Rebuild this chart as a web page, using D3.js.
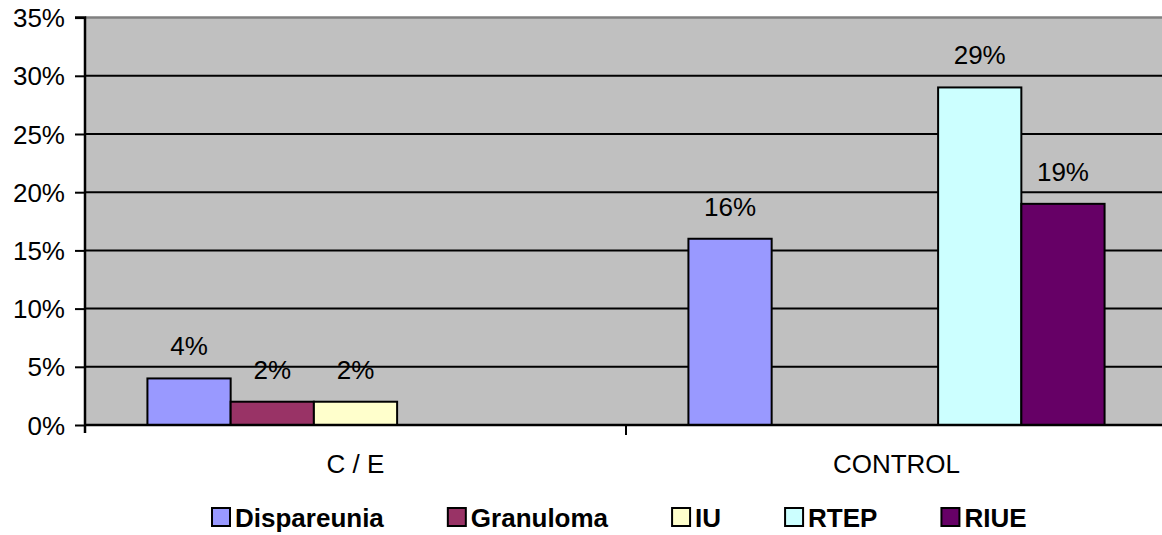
<!DOCTYPE html>
<html><head><meta charset="utf-8">
<script src="https://cdn.jsdelivr.net/npm/d3@7"></script>
<style>
html,body{margin:0;padding:0;background:#fff;overflow:hidden;}
text{font-family:"Liberation Sans",Arial,sans-serif;}
</style></head>
<body>
<svg id="chart" width="1162" height="535"></svg>
<script>
const categories = ["C / E", "CONTROL"];
const seriesNames = ["Dispareunia", "Granuloma", "IU", "RTEP", "RIUE"];
const seriesColors = ["#9999FF", "#993366", "#FFFFCC", "#CCFFFF", "#660066"];
const dispareunia = [4, 16];
const granuloma = [2, null];
const iu = [2, null];
const rtep = [null, 29];
const riue = [null, 19];
const yTicks = [0, 5, 10, 15, 20, 25, 30, 35];

const seriesValues = [dispareunia, granuloma, iu, rtep, riue];

(function () {
const svg = d3.select("#chart");
const pLeft = 85, pTop = 17.6, pBottom = 425, pRight = 1167;

const y = d3.scaleLinear().domain([0, 35]).range([pBottom, pTop]);
const x0 = d3.scaleBand().domain(categories).range([pLeft, pRight]).paddingInner(0).paddingOuter(0);
const bw = x0.bandwidth();
const barW = bw / (seriesNames.length + 1.5);
const x1 = d3.scaleBand().domain(seriesNames)
  .range([(bw - barW * seriesNames.length) / 2, (bw + barW * seriesNames.length) / 2])
  .padding(0);

// plot background
svg.append("rect").attr("x", pLeft).attr("y", pTop).attr("width", pRight - pLeft).attr("height", pBottom - pTop)
  .attr("fill", "#C0C0C0");

// gridlines
svg.append("g").selectAll("line").data(yTicks.filter(d => d > 0 && d < 35)).join("line")
  .attr("x1", pLeft).attr("x2", pRight).attr("y1", d => y(d)).attr("y2", d => y(d))
  .attr("stroke", "#000").attr("stroke-width", 2);
// top border
svg.append("line").attr("x1", pLeft).attr("x2", pRight).attr("y1", y(35)).attr("y2", y(35))
  .attr("stroke", "#808080").attr("stroke-width", 2.5);

// bars
const data = [];
categories.forEach((c, ci) => {
  seriesNames.forEach((s, si) => {
    const v = seriesValues[si][ci];
    if (v != null) data.push({c, s, v, color: seriesColors[si]});
  });
});
svg.append("g").selectAll("rect").data(data).join("rect")
  .attr("x", d => x0(d.c) + x1(d.s))
  .attr("y", d => y(d.v))
  .attr("width", x1.bandwidth())
  .attr("height", d => y(0) - y(d.v))
  .attr("fill", d => d.color)
  .attr("stroke", "#000").attr("stroke-width", 2);

// data labels
svg.append("g").selectAll("text").data(data).join("text")
  .attr("x", d => x0(d.c) + x1(d.s) + x1.bandwidth() / 2)
  .attr("y", d => y(d.v) - 23)
  .attr("text-anchor", "middle")
  .attr("font-size", 26)
  .attr("fill", "#000")
  .text(d => d.v + "%");

// y axis
const yAxis = d3.axisLeft(y).tickValues(yTicks).tickFormat(d => d + "%").tickSize(10).tickPadding(10);
const gy = svg.append("g").attr("transform", `translate(${pLeft},0)`).call(yAxis);
gy.select(".domain").attr("stroke", "#000").attr("stroke-width", 2.5).attr("d", `M-10,${y(35)}H0V${pBottom + 8}`);
gy.selectAll(".tick line").attr("stroke", "#000").attr("stroke-width", 2);
gy.selectAll(".tick text").attr("font-size", 26).attr("fill", "#000")
  .attr("font-family", "Liberation Sans, Arial, sans-serif").attr("dy", "0.35em");

// x axis
svg.append("line").attr("x1", pLeft).attr("x2", pRight).attr("y1", pBottom).attr("y2", pBottom)
  .attr("stroke", "#000").attr("stroke-width", 2.5);
svg.append("g").selectAll("line").data(categories.slice(1)).join("line")
  .attr("x1", d => x0(d)).attr("x2", d => x0(d)).attr("y1", pBottom).attr("y2", pBottom + 10)
  .attr("stroke", "#000").attr("stroke-width", 2);
svg.append("g").selectAll("text").data(categories).join("text")
  .attr("x", d => x0(d) + bw / 2)
  .attr("y", 473)
  .attr("text-anchor", "middle")
  .attr("font-size", 26)
  .attr("fill", "#000")
  .text(d => d);

// legend
const lg = svg.append("g");
let lx = 212;
seriesNames.forEach((s, i) => {
  const g = lg.append("g");
  g.append("rect").attr("x", lx).attr("y", 508).attr("width", 18).attr("height", 18)
    .attr("fill", seriesColors[i]).attr("stroke", "#000").attr("stroke-width", 2);
  const t = g.append("text").attr("x", lx + 23).attr("y", 527)
    .attr("font-size", 26).attr("font-weight", "bold").attr("fill", "#000").text(s);
  lx += 23 + t.node().getComputedTextLength() + 64;
});
})();
</script>
</body></html>
